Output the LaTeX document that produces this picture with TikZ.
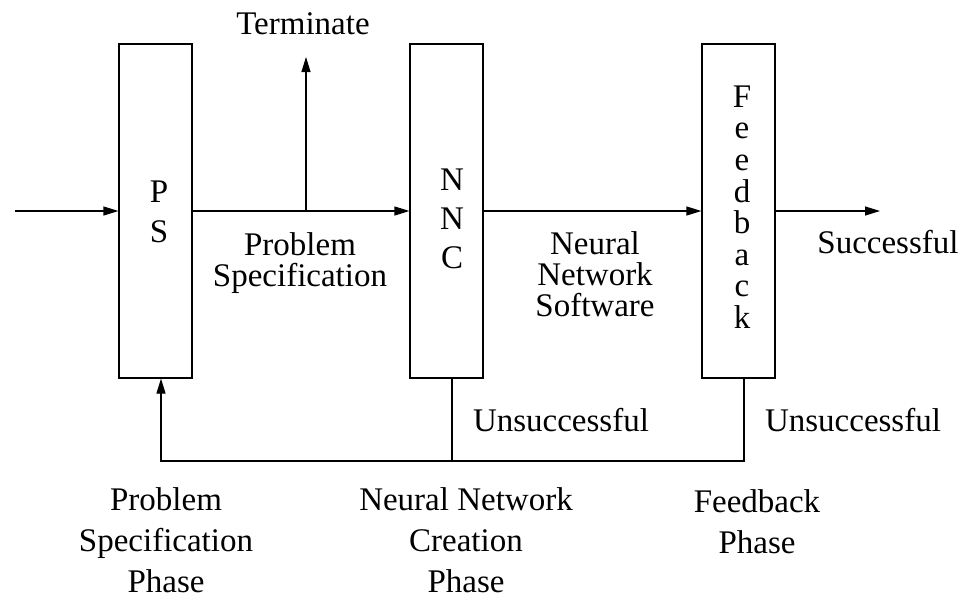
\documentclass[tikz,border=0pt]{standalone}
\usepackage{fontspec}
\setmainfont{Liberation Serif}
\usetikzlibrary{arrows.meta,calc}
\begin{document}
\begin{tikzpicture}[x=1pt,y=-1pt,
  line width=1.2pt,
  every node/.style={font=\fontsize{33}{35}\selectfont, inner sep=0pt},
  phasebox/.style={draw, minimum width=73pt, minimum height=334pt},
  lbl/.style={align=center},
  arr/.style={-{Triangle[length=15pt,width=9pt]}}]
  \fill[white] (0,0) rectangle (963,600);
  \useasboundingbox (0,0) rectangle (963,600);

  % phase boxes
  \node[phasebox] (ps)  at (155.5,211) {};
  \node[phasebox] (nnc) at (446.5,211) {};
  \node[phasebox] (fb)  at (738.5,211) {};

  % stacked letters inside the boxes
  \node[lbl, font=\fontsize{33}{40}\selectfont] (pstext) at (159,212) {P\\S};
  \node[lbl, font=\fontsize{33}{39}\selectfont] (nnctext) at (452,219) {N\\N\\C};
  \node[lbl, font=\fontsize{33}{31.6}\selectfont] (fbtext) at (742,207) {F\\e\\e\\d\\b\\a\\c\\k};

  % labels
  \node (term) at (303,24) {Terminate};
  \node[lbl, font=\fontsize{33}{31}\selectfont] (pslbl) at (300,263) {Problem\\Specification};
  \node[lbl, font=\fontsize{33}{31}\selectfont] (nnslbl) at (595,274) {Neural\\Network\\Software};
  \node (succ) at (888,242) {Successful};
  \node (uns1) at (561,420) {Unsuccessful};
  \node (uns2) at (853,420) {Unsuccessful};

  \node[lbl, font=\fontsize{33}{41}\selectfont] (psphase) at (166,540) {Problem\\Specification\\Phase};
  \node[lbl, font=\fontsize{33}{41}\selectfont] (nncphase) at (466,540) {Neural Network\\Creation\\Phase};
  \node[lbl, font=\fontsize{33}{41}\selectfont] (fbphase) at (757,522) {Feedback\\Phase};

  % connector end points
  \coordinate (in) at (15,211);
  \coordinate (out) at (880,211);
  \coordinate (split) at (306,211);
  \coordinate (termtip) at (306,57);
  \coordinate (nncdown) at ($(nnc.south)+(5.5,0)$);
  \coordinate (fbdown) at ($(fb.south)+(5.5,0)$);
  \coordinate (psup) at ($(ps.south)+(5.5,0)$);
  \coordinate (loop) at (744,461);

  % main flow
  \draw[arr] (in) -- (ps.west);
  \draw[arr] (ps.east) -- (nnc.west);
  \draw[arr] (split) -- (termtip);
  \draw[arr] (nnc.east) -- (fb.west);
  \draw[arr] (fb.east) -- (out);

  % return path for unsuccessful outcomes
  \draw (nncdown) -- (nncdown |- loop);
  \draw[arr] (fbdown) -- (loop) -| (psup);
\end{tikzpicture}
\end{document}
